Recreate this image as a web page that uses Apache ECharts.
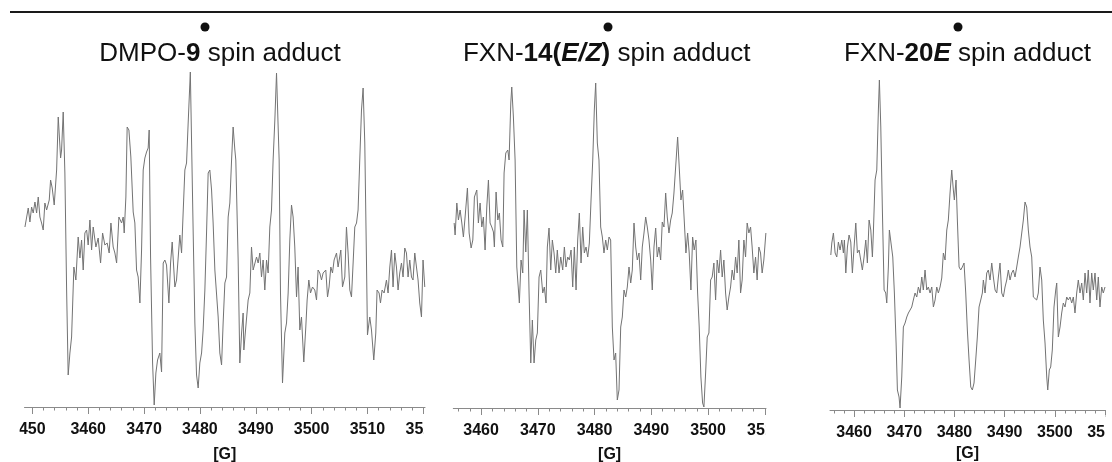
<!DOCTYPE html>
<html><head><meta charset="utf-8">
<script src="https://cdn.jsdelivr.net/npm/echarts@6/dist/echarts.min.js"></script>
<style>html,body{margin:0;padding:0;background:#fff}#c{width:1112px;height:462px}</style>
</head><body><div id="c"></div>
<script>
// [field (G), signal (a.u.)]
const panel1 = [[3448.68,180],[3448.98,179],[3449.27,199],[3449.57,185],[3449.87,200],[3450.16,194],[3450.47,205],[3450.77,194],[3451.06,210],[3451.36,190],[3451.66,184],[3451.95,177],[3452.25,204],[3452.56,197],[3453.03,207],[3453.27,227],[3453.56,219],[3453.92,202],[3454.35,237],[3454.64,290],[3455.06,249],[3455.24,257],[3455.53,295],[3455.83,234],[3456.14,117],[3456.42,32],[3456.73,54],[3457.03,70],[3457.44,140],[3457.80,127],[3458.21,170],[3458.52,149],[3458.82,167],[3459.11,137],[3459.41,174],[3459.72,177],[3460.00,162],[3460.31,187],[3460.61,157],[3460.90,180],[3461.38,160],[3461.79,169],[3462.22,144],[3462.58,174],[3462.99,162],[3463.40,164],[3463.76,154],[3464.07,184],[3464.48,160],[3464.78,154],[3465.09,144],[3465.50,190],[3465.98,184],[3466.27,190],[3466.45,174],[3466.75,210],[3466.98,280],[3467.29,277],[3467.64,250],[3468.06,195],[3468.36,184],[3468.66,137],[3468.95,130],[3469.26,104],[3469.56,157],[3469.85,237],[3470.15,249],[3470.45,255],[3470.74,259],[3470.92,277],[3471.17,150],[3471.53,44],[3471.82,2],[3472.12,34],[3472.42,47],[3472.83,54],[3473.14,35],[3473.43,144],[3473.73,147],[3474.03,142],[3474.45,104],[3474.75,144],[3475.04,165],[3475.52,120],[3475.82,127],[3476.11,149],[3476.41,172],[3476.72,154],[3477.00,194],[3477.31,237],[3477.61,244],[3477.90,284],[3478.29,335],[3478.79,177],[3479.10,84],[3479.40,32],[3479.69,19],[3479.99,44],[3480.30,54],[3480.58,77],[3480.89,117],[3481.19,174],[3481.48,234],[3481.78,237],[3482.09,217],[3482.37,184],[3482.68,137],[3482.98,135],[3483.27,90],[3483.57,54],[3483.88,42],[3484.16,84],[3484.47,124],[3484.77,130],[3485.06,190],[3485.36,204],[3485.67,247],[3485.95,280],[3486.26,257],[3486.43,247],[3486.85,147],[3487.15,44],[3487.46,74],[3487.74,94],[3487.87,57],[3488.22,80],[3488.64,107],[3488.94,114],[3489.24,160],[3489.53,137],[3489.84,135],[3490.14,150],[3490.43,144],[3490.73,154],[3491.03,130],[3491.32,147],[3491.62,117],[3491.93,147],[3492.22,134],[3492.52,180],[3492.82,197],[3493.11,247],[3493.42,287],[3493.72,334],[3494.01,334],[3494.19,247],[3494.43,114],[3494.79,24],[3495.20,74],[3495.51,84],[3495.80,114],[3496.10,167],[3496.40,202],[3496.69,190],[3496.99,160],[3497.30,110],[3497.58,140],[3497.89,77],[3498.19,90],[3498.60,45],[3498.96,80],[3499.20,107],[3499.50,127],[3499.80,114],[3500.16,120],[3500.57,117],[3500.88,107],[3501.16,137],[3501.47,134],[3501.77,127],[3502.06,134],[3502.54,137],[3502.85,110],[3503.13,120],[3503.44,140],[3503.74,134],[3504.03,147],[3504.46,154],[3504.74,140],[3505.23,157],[3505.53,120],[3505.94,130],[3506.24,180],[3506.53,154],[3506.84,117],[3507.14,110],[3507.43,144],[3507.73,180],[3508.04,184],[3508.32,197],[3508.62,247],[3508.93,297],[3509.22,319],[3509.52,264],[3509.82,147],[3510.00,72],[3510.41,90],[3510.72,77],[3511.13,47],[3511.49,74],[3511.72,117],[3512.08,114],[3512.33,104],[3512.62,117],[3512.98,114],[3513.40,127],[3513.69,114],[3514.00,140],[3514.30,157],[3514.58,120],[3514.89,154],[3515.19,140],[3515.48,117],[3515.78,134],[3516.09,144],[3516.37,130],[3516.68,159],[3516.98,154],[3517.27,130],[3517.57,147],[3517.88,130],[3518.16,127],[3518.47,154],[3518.77,140],[3519.06,127],[3519.36,104],[3519.67,90],[3519.95,147],[3520.26,120]];

const panel2 = [[3455.25,185],[3455.42,173],[3455.72,205],[3456.00,188],[3456.30,198],[3456.60,185],[3456.88,171],[3457.18,191],[3457.59,220],[3457.89,175],[3458.24,160],[3458.54,168],[3458.82,211],[3459.24,218],[3459.52,185],[3459.82,205],[3460.12,181],[3460.40,191],[3460.70,158],[3461.00,201],[3461.29,228],[3461.58,185],[3461.88,181],[3462.17,176],[3462.34,161],[3462.64,216],[3462.94,188],[3463.22,195],[3463.52,168],[3463.82,161],[3464.05,235],[3464.35,255],[3464.70,258],[3464.93,248],[3465.23,305],[3465.40,321],[3465.69,291],[3465.99,248],[3466.29,141],[3466.74,105],[3467.04,148],[3467.34,135],[3467.57,198],[3467.87,156],[3468.15,198],[3468.45,115],[3468.75,45],[3469.03,88],[3469.33,45],[3469.63,68],[3469.91,75],[3470.21,131],[3470.51,138],[3470.86,115],[3471.14,121],[3471.44,105],[3471.67,161],[3471.97,180],[3472.27,138],[3472.55,168],[3472.85,155],[3473.15,135],[3473.43,158],[3473.73,135],[3474.03,151],[3474.38,138],[3474.67,161],[3474.96,141],[3475.26,151],[3475.55,148],[3475.85,158],[3476.14,121],[3476.43,161],[3476.73,118],[3477.02,168],[3477.31,195],[3477.61,145],[3477.90,181],[3478.19,155],[3478.49,161],[3478.79,151],[3479.07,165],[3479.37,208],[3479.67,248],[3479.95,298],[3480.19,325],[3480.48,265],[3480.77,248],[3481.07,181],[3481.36,171],[3481.65,155],[3481.95,168],[3482.24,158],[3482.54,171],[3482.83,168],[3483.12,81],[3483.42,48],[3483.71,55],[3484.00,8],[3484.30,18],[3484.60,81],[3484.88,91],[3485.18,118],[3485.48,111],[3485.76,121],[3486.06,141],[3486.36,125],[3486.64,138],[3486.94,185],[3487.24,161],[3487.52,148],[3487.82,155],[3488.12,128],[3488.40,161],[3488.70,175],[3489.00,191],[3489.28,181],[3489.58,168],[3489.88,148],[3490.16,118],[3490.46,161],[3490.76,180],[3491.04,151],[3491.34,161],[3491.64,148],[3491.92,186],[3492.22,181],[3492.52,215],[3492.80,191],[3493.10,175],[3493.40,188],[3493.68,195],[3493.98,215],[3494.28,241],[3494.63,271],[3494.91,241],[3495.21,208],[3495.51,218],[3495.79,188],[3496.09,155],[3496.39,175],[3496.67,155],[3496.97,118],[3497.27,171],[3497.55,158],[3497.85,168],[3498.15,115],[3498.43,81],[3498.73,31],[3499.03,5],[3499.26,1],[3499.56,35],[3499.84,71],[3500.14,75],[3500.44,128],[3500.72,131],[3501.02,145],[3501.32,108],[3501.60,148],[3501.90,135],[3502.20,158],[3502.48,131],[3502.78,148],[3503.08,115],[3503.36,98],[3503.66,111],[3503.96,121],[3504.24,138],[3504.54,128],[3504.84,151],[3505.12,135],[3505.42,168],[3505.72,115],[3506.00,128],[3506.30,168],[3506.60,151],[3506.88,185],[3507.18,175],[3507.48,181],[3507.76,161],[3508.06,135],[3508.36,151],[3508.64,128],[3508.94,161],[3509.24,155],[3509.52,135],[3509.82,148],[3510.18,175]];

const panel3 = [[3455.36,155],[3455.56,167],[3455.88,177],[3456.22,157],[3456.55,153],[3456.87,168],[3457.21,160],[3457.55,170],[3457.87,157],[3458.07,170],[3458.35,137],[3458.67,163],[3459.00,175],[3459.34,168],[3459.66,137],[3460.00,163],[3460.34,187],[3460.66,157],[3461.00,160],[3461.33,160],[3461.65,140],[3461.99,153],[3462.33,170],[3462.65,147],[3462.99,190],[3463.33,180],[3463.65,153],[3463.84,177],[3464.18,230],[3464.52,240],[3464.84,300],[3465.04,330],[3465.32,283],[3465.64,200],[3465.98,120],[3466.31,117],[3466.51,107],[3466.83,143],[3467.03,180],[3467.37,180],[3467.71,153],[3468.03,117],[3468.37,67],[3468.63,20],[3468.96,13],[3469.16,2],[3469.50,33],[3469.82,83],[3470.16,87],[3470.50,93],[3470.82,97],[3471.16,100],[3471.49,103],[3471.81,110],[3472.15,117],[3472.49,113],[3472.81,123],[3473.15,117],[3473.49,133],[3473.80,120],[3474.14,140],[3474.48,120],[3474.80,123],[3475.14,117],[3475.48,123],[3475.80,103],[3476.14,110],[3476.47,123],[3476.79,117],[3477.13,123],[3477.47,132],[3477.79,157],[3478.13,150],[3478.47,180],[3478.78,190],[3479.12,217],[3479.46,240],[3479.78,220],[3479.98,210],[3480.32,230],[3480.58,190],[3480.92,143],[3481.25,140],[3481.57,143],[3481.91,147],[3482.25,117],[3482.57,80],[3482.91,50],[3483.25,23],[3483.57,20],[3483.90,27],[3484.24,50],[3484.56,73],[3484.90,103],[3485.24,110],[3485.56,117],[3485.76,130],[3486.10,117],[3486.43,137],[3486.75,140],[3487.09,130],[3487.43,147],[3487.75,133],[3488.09,120],[3488.43,117],[3488.75,133],[3489.08,147],[3489.42,117],[3489.74,113],[3490.08,123],[3490.42,130],[3490.74,140],[3491.08,130],[3491.41,137],[3491.73,140],[3492.07,133],[3492.41,143],[3492.73,153],[3493.07,163],[3493.41,177],[3493.73,190],[3494.06,208],[3494.40,203],[3494.72,180],[3495.06,163],[3495.40,153],[3495.72,113],[3496.06,113],[3496.39,110],[3496.71,117],[3497.05,143],[3497.39,130],[3497.71,90],[3498.05,67],[3498.39,33],[3498.59,20],[3498.90,40],[3499.18,43],[3499.50,60],[3499.84,103],[3500.18,120],[3500.38,127],[3500.70,73],[3501.04,83],[3501.37,97],[3501.69,107],[3502.03,103],[3502.37,113],[3502.69,110],[3503.03,113],[3503.37,107],[3503.69,113],[3504.02,97],[3504.36,117],[3504.68,130],[3505.02,117],[3505.36,127],[3505.68,110],[3506.02,137],[3506.35,117],[3506.67,140],[3507.01,107],[3507.35,137],[3507.67,120],[3508.01,137],[3508.35,110],[3508.67,133],[3509.00,103],[3509.34,123],[3509.66,117],[3510.00,123]];

const majorTicks1 = [3450,3460,3470,3480,3490,3500,3510,3520];
const minorTicks1 = [3450,3452,3454,3456,3458,3460,3462,3464,3466,3468,3470,3472,3474,3476,3478,3480,3482,3484,3486,3488,3490,3492,3494,3496,3498,3500,3502,3504,3506,3508,3510,3512,3514,3516,3518,3520];
const majorTicks23 = [3460,3470,3480,3490,3500,3510];
const minorTicks23 = [3456,3458,3460,3462,3464,3466,3468,3470,3472,3474,3476,3478,3480,3482,3484,3486,3488,3490,3492,3494,3496,3498,3500,3502,3504,3506,3508,3510];

const FONT = "'Liberation Sans', Arial, Helvetica, sans-serif";
const AXIS = '#8a8a8a';
const LBL = {fontSize: 16, fontWeight: 'bold', color: '#111', fontFamily: FONT};
const panels = [
  {data: panel1, min: 3448.6, max: 3520.3, left: 24.5, width: 400.5, top: 70, height: 337, major: majorTicks1, minor: minorTicks1, nameGap: 40},
  {data: panel2, min: 3455.1, max: 3510.2, left: 453.3, width: 312.7, top: 80, height: 328, major: majorTicks23, minor: minorTicks23, nameGap: 39},
  {data: panel3, min: 3455.2, max: 3510.0, left: 830, width: 275, top: 78, height: 332, major: majorTicks23, minor: minorTicks23, nameGap: 36}
];

const grid = [], xAxis = [], yAxis = [], series = [];
panels.forEach((p, i) => {
  grid[i] = {left: p.left, top: p.top, width: p.width, height: p.height, outerBoundsMode: 'none', containLabel: false};
  grid[i + 3] = {left: p.left, top: p.top, width: p.width, height: p.height, outerBoundsMode: 'none', containLabel: false};
  xAxis[i] = {
    type: 'value', gridIndex: i, min: p.min, max: p.max,
    axisLine: {show: true, lineStyle: {color: AXIS, width: 1}},
    axisTick: {show: true, customValues: p.major, length: 7, lineStyle: {color: AXIS, width: 1}},
    axisLabel: Object.assign({show: true, customValues: p.major, margin: 15,
      formatter: v => (i === 0 && Math.round(v) === 3450) ? '{l|3450}' : String(Math.round(v)),
      rich: {l: Object.assign({padding: [0, 9, 0, 0]}, LBL)}}, LBL),
    splitLine: {show: false},
    name: '[G]', nameLocation: 'middle', nameGap: p.nameGap,
    nameTextStyle: LBL
  };
  xAxis[i + 3] = {
    type: 'value', gridIndex: i + 3, min: p.min, max: p.max,
    axisLine: {show: false},
    axisTick: {show: true, customValues: p.minor, length: 3.5, lineStyle: {color: AXIS, width: 1}},
    axisLabel: {show: false}, splitLine: {show: false}
  };
  yAxis[i] = {type: 'value', gridIndex: i, min: 0, max: p.height, show: false};
  yAxis[i + 3] = {type: 'value', gridIndex: i + 3, min: 0, max: p.height, show: false};
  series.push({
    type: 'line', xAxisIndex: i, yAxisIndex: i, data: p.data,
    showSymbol: false, symbol: 'none', clip: false,
    lineStyle: {color: '#737373', width: 1}
  });
});

const rich = {
  r: {fontSize: 26, fontFamily: FONT, color: '#111'},
  b: {fontSize: 26, fontFamily: FONT, color: '#111', fontWeight: 'bold'},
  bi: {fontSize: 26, fontFamily: FONT, color: '#111', fontWeight: 'bold', fontStyle: 'italic'}
};
const mkTitle = (text, cx) => ({text, left: cx, top: 41, padding: 0, textAlign: 'center',
  textStyle: {fontSize: 26, fontFamily: FONT, color: '#111', fontWeight: 'normal', rich}});

const title = [
  mkTitle('{r|DMPO-}{b|9}{r| spin adduct}', 220),
  mkTitle('{r|FXN-}{b|14(}{bi|E/Z}{b|)}{r| spin adduct}', 606.7),
  mkTitle('{r|FXN-}{b|20}{bi|E}{r| spin adduct}', 967.5)
];

const mask = (x, w) => ({type: 'rect', z: 100, shape: {x, y: 415, width: w, height: 29}, style: {fill: '#fff'}});
const dot = (cx) => ({type: 'circle', z: 100, shape: {cx, cy: 27, r: 4.5}, style: {fill: '#111'}});

const graphic = [
  {type: 'line', z: 100, shape: {x1: 10, y1: 12, x2: 1112, y2: 12}, style: {stroke: '#1a1a1a', lineWidth: 2}},
  dot(205), dot(608), dot(958),
  mask(0, 19.5), mask(423.6, 28), mask(765.3, 60), mask(1105.4, 10)
];

const chart = echarts.init(document.getElementById('c'), null, {renderer: 'canvas'});
chart.setOption({animation: false, backgroundColor: '#fff', title, grid, xAxis, yAxis, series, graphic});
</script></body></html>
